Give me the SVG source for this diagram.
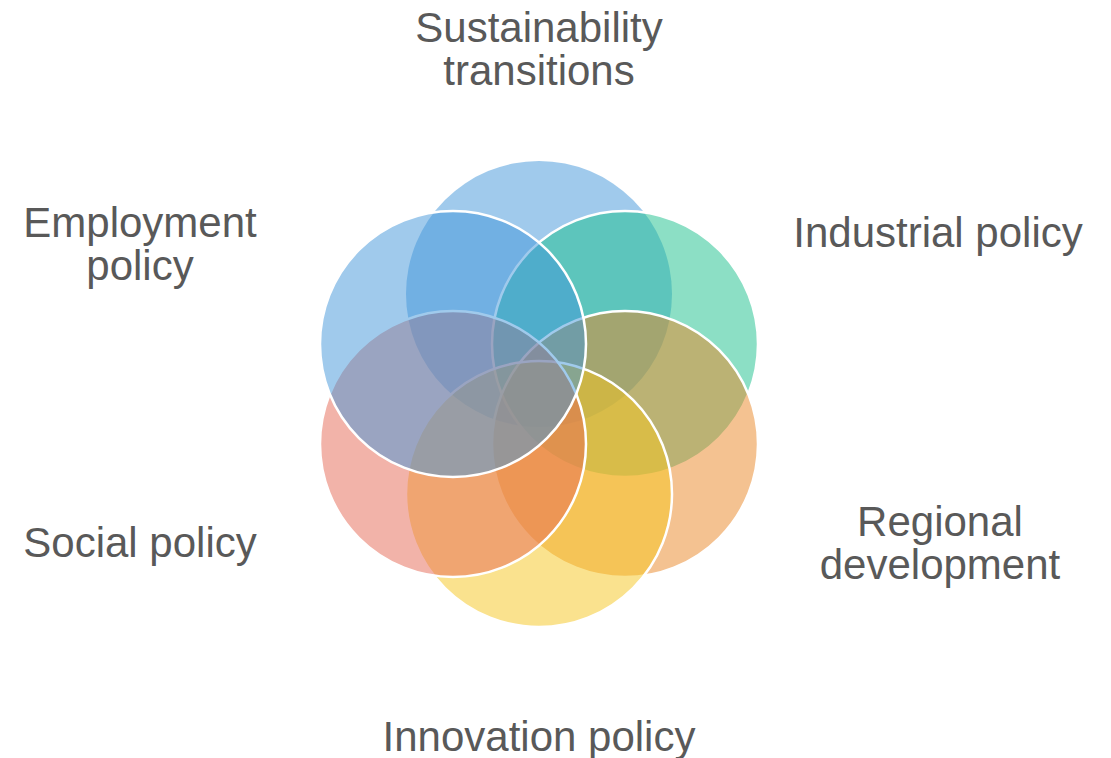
<svg xmlns="http://www.w3.org/2000/svg" width="1111" height="758" viewBox="0 0 1111 758">
<style>
.c{fill-opacity:0.5;stroke:#fff;stroke-width:2.5}
.t{font-family:"Liberation Sans",Arial,sans-serif;font-size:42px;fill:#595959;text-anchor:middle}
</style>
<rect width="1111" height="758" fill="#fff"/>
<g id="circle-sustainability"><circle cx="539" cy="294" r="133" fill="#4195D9" fill-opacity="0.5"/></g>
<g id="circle-industrial"><circle class="c" cx="625" cy="344" r="133" fill="#19BF8B"/></g>
<g id="circle-regional"><circle class="c" cx="625" cy="444" r="133" fill="#E98523"/></g>
<g id="circle-innovation"><circle class="c" cx="539" cy="494" r="133" fill="#F5C51D"/></g>
<g id="circle-social"><circle class="c" cx="453" cy="444" r="133" fill="#E56753"/></g>
<g id="circle-employment"><circle class="c" cx="453" cy="344" r="133" fill="#4195D9"/></g>
<g id="connectors"></g>
<g id="label-sustainability"><text class="t" x="539" y="42">Sustainability</text><text class="t" x="539" y="85">transitions</text></g>
<g id="label-industrial"><text class="t" x="938" y="247">Industrial policy</text></g>
<g id="label-regional"><text class="t" x="940" y="536">Regional</text><text class="t" x="940" y="579">development</text></g>
<g id="label-innovation"><text class="t" x="539" y="751">Innovation policy</text></g>
<g id="label-social"><text class="t" x="140" y="557">Social policy</text></g>
<g id="label-employment"><text class="t" x="140" y="237">Employment</text><text class="t" x="140" y="280">policy</text></g>
</svg>
